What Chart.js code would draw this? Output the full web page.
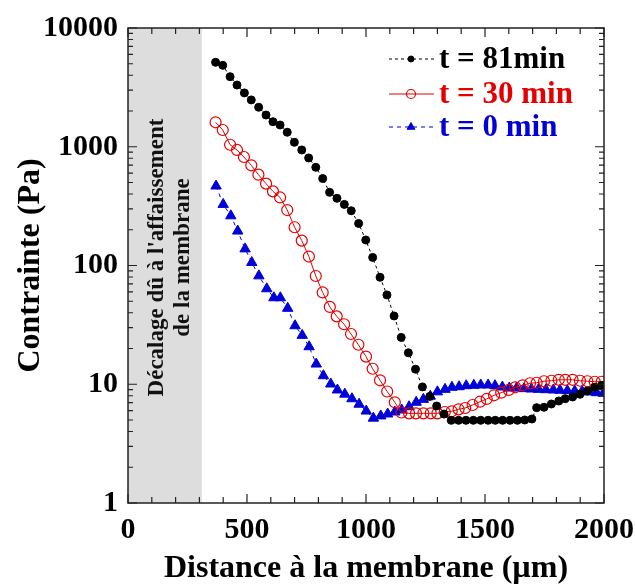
<!DOCTYPE html>
<html>
<head>
<meta charset="utf-8">
<script src="https://cdn.jsdelivr.net/npm/chart.js@4.4.0/dist/chart.umd.min.js"></script>
<style>body{margin:0;background:#fff}</style>
</head>
<body>
<canvas id="myChart" width="635" height="586"></canvas>
<script>
// data (distance in µm, stress in Pa)
const dist81 = [368,398,429,458,489,518,549,580,609,639,669,699,730,759,789,818,847,878,909,938,969,999,1028,1059,1088,1118,1148,1178,1208,1237,1268,1297,1328,1358,1389,1420,1451,1482,1513,1543,1574,1605,1636,1667,1697,1717,1748,1779,1810,1837,1868,1899,1930,1961,1990]
const stress81 = [5140,4850,3890,3310,2840,2480,2150,1850,1625,1525,1325,1090,940,805,671,540,413,368,327,289,226,164,117,79.6,56.5,37.6,24.8,18.4,13.4,9.5,7.9,6.56,5.61,4.97,4.97,4.97,4.97,4.97,4.97,4.97,4.97,4.97,4.97,5.0,5.1,6.35,6.4,6.82,7.23,7.56,7.81,8.23,8.77,9.43,9.8]

const dist30 = [368,398,429,458,487,518,548,580,609,639,669,700,730,760,789,818,848,877,908,937,968,1000,1028,1059,1089,1121,1149,1181,1210,1241,1272,1300,1331,1360,1389,1417,1448,1479,1507,1538,1568,1600,1627,1658,1689,1717,1748,1779,1810,1837,1868,1899,1930,1961,1990]
const stress30 = [1607,1384,1040,940,820,698,582,489,421,374,293,210,162,119,81.6,59.3,44.8,37.3,32.0,26.5,21.5,17.1,13.5,10.8,8.69,7.05,5.78,5.69,5.69,5.69,5.69,5.69,5.84,5.92,6.15,6.31,6.69,7.13,7.52,8.07,8.49,8.96,9.43,9.8,10.2,10.3,10.6,10.7,10.9,10.9,10.9,10.7,10.6,10.5,10.5]

const dist0 = [370,400,432,461,492,520,550,583,613,640,671,702,732,761,791,821,852,880,911,941,971,1001,1031,1062,1091,1121,1150,1181,1211,1241,1270,1300,1332,1361,1391,1421,1453,1482,1513,1542,1573,1602,1633,1664,1695,1725,1756,1787,1815,1846,1877,1908,1938,1969,1997]
const stress0 = [467,327,262,195,138,106,81.8,63.7,53.5,53.5,43.6,31.1,25.8,20.7,14.8,11.8,10.05,8.95,8.25,7.55,6.79,5.95,5.18,5.41,5.62,5.84,6.07,6.47,7.05,7.46,7.93,8.63,9.06,9.43,9.53,9.72,9.8,9.86,9.86,9.72,9.48,9.29,9.29,9.18,9.12,9.06,9.0,8.95,8.9,8.83,8.77,8.71,8.61,8.49,8.39]

const seriesLabels = ['t = 81min', 't = 30 min', 't = 0 min']
const xTicks = [0, 500, 1000, 1500, 2000]
const yTicks = [1, 10, 100, 1000, 10000]
const shiftZone = [0, 310]
const shiftText = ["Décalage dû à l'affaissement", "de la membrane"]

const FONT = "'Liberation Serif', 'Times New Roman', serif"
const RED = 'rgb(228,0,0)'
const BLUE = 'rgb(0,0,215)'

function toPoints(xs, ys){
    return xs.map((x, i) => ({x: x, y: ys[i]}))
}

// grey zone + frame + inward ticks + legend
const framePlugin = {
    id: 'frame',
    beforeDatasetsDraw(chart){
        const {ctx, chartArea: a, scales: {x}} = chart
        const x0 = x.getPixelForValue(shiftZone[0])
        const x1 = x.getPixelForValue(shiftZone[1])
        ctx.save()
        ctx.fillStyle = '#dcdddc'
        ctx.fillRect(x0, a.top, x1 - x0, a.bottom - a.top)
        ctx.translate((x0 + x1) / 2, (a.top + a.bottom) / 2)
        ctx.rotate(-Math.PI / 2)
        ctx.fillStyle = '#111'
        ctx.font = 'bold 23px ' + FONT
        ctx.textAlign = 'center'
        ctx.textBaseline = 'middle'
        ctx.fillText(shiftText[0], 8, -8)
        ctx.fillText(shiftText[1], 8, 18)
        ctx.restore()
    },
    afterDatasetsDraw(chart){
        const {ctx, chartArea: a, scales: {x, y}} = chart
        ctx.save()
        ctx.strokeStyle = '#222'
        ctx.lineWidth = 1.2
        ctx.beginPath()
        for (let v = 0; v <= 2000; v += 100) {
            const px = x.getPixelForValue(v)
            const len = v % 500 === 0 ? 9 : 6
            ctx.moveTo(px, a.bottom); ctx.lineTo(px, a.bottom - len)
            ctx.moveTo(px, a.top); ctx.lineTo(px, a.top + len)
        }
        for (let d = 1; d < 10000; d *= 10) {
            for (let k = 1; k <= 10; k++) {
                const py = y.getPixelForValue(k * d)
                const len = (k === 1 || k === 10) ? 9 : 5
                ctx.moveTo(a.left, py); ctx.lineTo(a.left + len, py)
                ctx.moveTo(a.right, py); ctx.lineTo(a.right - len, py)
            }
        }
        ctx.stroke()
        ctx.lineWidth = 1.5
        ctx.strokeRect(a.left, a.top, a.right - a.left, a.bottom - a.top)
        ctx.restore()
    },
    afterDraw(chart){
        const {ctx} = chart
        const rows = [59, 94, 127]
        const textColors = ['#000', RED, BLUE]
        ctx.save()
        chart.data.datasets.forEach((ds, i) => {
            const yy = rows[i]
            ctx.strokeStyle = ds.borderColor
            ctx.lineWidth = 1
            ctx.setLineDash(ds.borderDash || [])
            ctx.beginPath(); ctx.moveTo(389, yy); ctx.lineTo(434, yy); ctx.stroke()
            ctx.setLineDash([])
            ctx.fillStyle = ds.pointBackgroundColor
            ctx.strokeStyle = ds.pointBorderColor
            ctx.lineWidth = ds.pointBorderWidth
            ctx.beginPath()
            const r = ds.legendRadius
            if (ds.pointStyle === 'triangle') {
                ctx.moveTo(411, yy - r); ctx.lineTo(411 + r * 0.87, yy + r * 0.5); ctx.lineTo(411 - r * 0.87, yy + r * 0.5); ctx.closePath()
            } else {
                ctx.arc(411, yy, r, 0, Math.PI * 2)
            }
            ctx.fill(); ctx.stroke()
            ctx.fillStyle = textColors[i]
            ctx.font = 'bold 31px ' + FONT
            ctx.textAlign = 'left'
            ctx.textBaseline = 'middle'
            ctx.fillText(ds.label, 439, yy + 1)
        })
        ctx.restore()
    }
}

const tickFont = {family: FONT, size: 30, weight: 'bold'}
const titleFont = {family: FONT, size: 32, weight: 'bold'}

const ctx = document.getElementById('myChart').getContext('2d')
const myChart = new Chart(ctx, {
    type: 'scatter',
    data: {
        datasets: [{
            label: seriesLabels[0],
            data: toPoints(dist81, stress81),
            showLine: true,
            borderColor: '#000',
            borderWidth: 1,
            borderDash: [3, 3],
            pointStyle: 'circle',
            pointRadius: 4,
            legendRadius: 3,
            pointBackgroundColor: '#000',
            pointBorderColor: '#000',
            pointBorderWidth: 1
        }, {
            label: seriesLabels[1],
            data: toPoints(dist30, stress30),
            showLine: true,
            borderColor: RED,
            borderWidth: 1,
            pointStyle: 'circle',
            pointRadius: 5.5,
            legendRadius: 4.5,
            pointBackgroundColor: 'rgba(255,255,255,0)',
            pointBorderColor: RED,
            pointBorderWidth: 1.2
        }, {
            label: seriesLabels[2],
            data: toPoints(dist0, stress0),
            showLine: true,
            borderColor: BLUE,
            borderWidth: 1,
            borderDash: [4, 4],
            pointStyle: 'triangle',
            pointRadius: 6,
            legendRadius: 4.5,
            pointBackgroundColor: BLUE,
            pointBorderColor: BLUE,
            pointBorderWidth: 1
        }]
    },
    options: {
        responsive: false,
        animation: false,
        layout: {padding: {top: 28, right: 31, left: 0, bottom: 0}},
        plugins: {
            legend: {display: false},
            tooltip: {enabled: false}
        },
        scales: {
            x: {
                type: 'linear',
                min: 0,
                max: 2000,
                afterFit(s){ s.height = 83; s.paddingRight = 0; s.paddingLeft = 0 },
                afterBuildTicks(s){ s.ticks = xTicks.map(v => ({value: v})) },
                grid: {display: false, drawTicks: false},
                border: {display: false},
                ticks: {padding: 9, color: '#000', font: tickFont, callback: v => String(v)},
                title: {display: true, text: 'Distance à la membrane (µm)', color: '#000', font: titleFont, padding: {top: 0, bottom: -2}}
            },
            y: {
                type: 'logarithmic',
                min: 1,
                max: 10000,
                afterFit(s){ s.width = 128; s.paddingTop = 0; s.paddingBottom = 0 },
                afterBuildTicks(s){ s.ticks = yTicks.map(v => ({value: v})) },
                grid: {display: false, drawTicks: false},
                border: {display: false},
                ticks: {padding: 10, color: '#000', font: tickFont, callback: v => String(v)},
                title: {display: true, text: 'Contrainte (Pa)', color: '#000', font: titleFont, padding: {top: 12, bottom: 0}}
            }
        }
    },
    plugins: [framePlugin]
})
</script>
</body>
</html>
